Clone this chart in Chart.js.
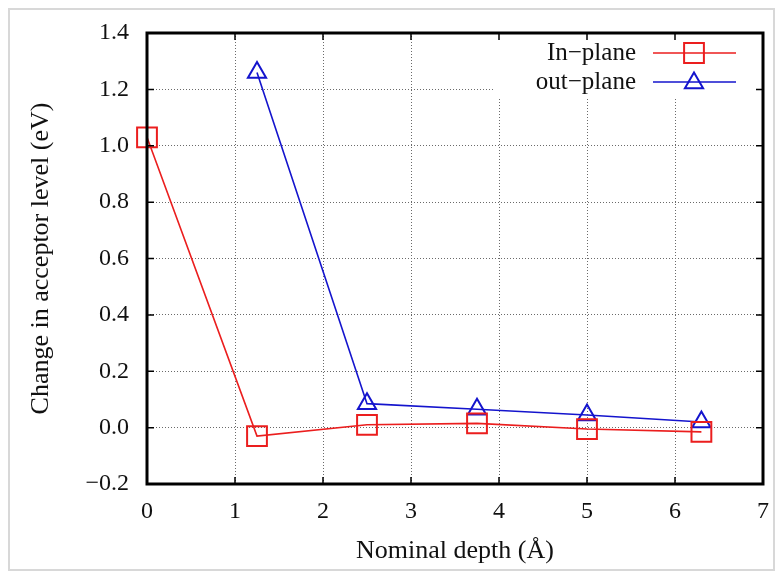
<!DOCTYPE html>
<html>
<head>
<meta charset="utf-8">
<script src="https://cdn.jsdelivr.net/npm/chart.js@4/dist/chart.umd.min.js"></script>
<style>
  html, body { margin: 0; padding: 0; background: #fff; }
  #wrap { width: 782px; height: 578px; position: relative; }
</style>
</head>
<body>
<div id="wrap"><canvas id="depthChart" width="782" height="578"></canvas></div>
<script>
// values
const depths    = [0, 1.25, 2.5, 3.75, 5.0, 6.3];
const inPlane   = [1.03, -0.03, 0.01, 0.015, -0.005, -0.015];
const outDepths = [1.25, 2.5, 3.75, 5.0, 6.3];
const outPlane  = [1.26, 0.085, 0.065, 0.045, 0.02];

const xTicks = [0, 1, 2, 3, 4, 5, 6, 7];
const yTicks = [-0.2, 0, 0.2, 0.4, 0.6, 0.8, 1.0, 1.2, 1.4];

const seriesNames = ["In\u2212plane", "out\u2212plane"];

const RED  = "rgb(235, 30, 30)";
const BLUE = "rgb(20, 20, 205)";
const FONT = "'Liberation Serif', 'Times New Roman', serif";

// gnuplot-ish frame, inward ticks, outer page border and the key
const framePlugin = {
    id: "frame",
    beforeDraw(chart) {
        const c = chart.ctx;
        c.save();
        c.strokeStyle = "#d8d8d8";
        c.lineWidth = 2;
        c.strokeRect(9, 9, 765, 561);
        c.restore();
    },
    afterDatasetsDraw(chart) {
        const c = chart.ctx;
        const a = chart.chartArea;
        const xs = chart.scales.x, ys = chart.scales.y;

        // key box (opaque, hides grid behind it)
        c.save();
        c.fillStyle = "#fff";
        c.fillRect(495, 36, 268, 62);

        const sets = chart.data.datasets;
        c.font = "25px " + FONT;
        c.textAlign = "right";
        c.textBaseline = "middle";
        sets.forEach((ds, i) => {
            const y = 53 + i * 29;
            c.fillStyle = "#111";
            c.fillText(ds.label, 636, y);
            c.strokeStyle = ds.borderColor;
            c.lineWidth = 1.6;
            c.beginPath();
            c.moveTo(653, y);
            c.lineTo(736, y);
            c.stroke();
            c.lineWidth = 2;
            c.fillStyle = "rgba(0,0,0,0)";
            Chart.helpers.drawPoint(c, {
                pointStyle: ds.pointStyle,
                radius: ds.pointRadius,
                rotation: 0,
                borderWidth: 2
            }, 694, ds.pointStyle === "triangle" ? y + 1 : y);
        });

        // inward ticks on all four sides
        c.strokeStyle = "#000";
        c.lineWidth = 1.5;
        c.beginPath();
        xTicks.forEach(v => {
            const px = xs.getPixelForValue(v);
            c.moveTo(px, a.bottom); c.lineTo(px, a.bottom - 7);
            c.moveTo(px, a.top);    c.lineTo(px, a.top + 7);
        });
        yTicks.forEach(v => {
            const py = ys.getPixelForValue(v);
            c.moveTo(a.left, py);  c.lineTo(a.left + 7, py);
            c.moveTo(a.right, py); c.lineTo(a.right - 7, py);
        });
        c.stroke();

        // heavy frame
        c.lineWidth = 3;
        c.strokeRect(a.left, a.top, a.right - a.left, a.bottom - a.top);
        c.restore();
    }
};

new Chart(document.getElementById("depthChart"), {
    type: "scatter",
    data: {
        datasets: [
            {
                label: seriesNames[0],
                data: depths.map((d, i) => ({ x: d, y: inPlane[i] })),
                showLine: true,
                clip: false,
                borderColor: RED,
                backgroundColor: "rgba(0,0,0,0)",
                borderWidth: 1.6,
                pointStyle: "rect",
                pointRadius: 14,
                pointBorderWidth: 2,
                pointHoverRadius: 14
            },
            {
                label: seriesNames[1],
                data: outDepths.map((d, i) => ({ x: d, y: outPlane[i] })),
                showLine: true,
                clip: false,
                borderColor: BLUE,
                backgroundColor: "rgba(0,0,0,0)",
                borderWidth: 1.6,
                pointStyle: "triangle",
                pointRadius: 10.5,
                pointBorderWidth: 2,
                pointHoverRadius: 10.5
            }
        ]
    },
    options: {
        responsive: false,
        animation: false,
        events: [],
        layout: { padding: { left: 22, right: 16, top: 33, bottom: 7 } },
        plugins: {
            legend: { display: false },
            tooltip: { enabled: false }
        },
        scales: {
            x: {
                type: "linear",
                min: 0,
                max: 7,
                afterBuildTicks: s => { s.ticks = xTicks.map(v => ({ value: v })); },
                afterFit: s => { s.height = 87; },
                grid: {
                    color: "#6a6a6a",
                    lineWidth: 1,
                    drawTicks: false
                },
                border: { display: false, dash: [1, 2] },
                ticks: {
                    color: "#111",
                    padding: 13,
                    maxRotation: 0,
                    font: { family: FONT, size: 24 }
                },
                title: {
                    display: true,
                    text: "Nominal depth (\u00c5)",
                    color: "#111",
                    font: { family: FONT, size: 26 },
                    padding: { top: 8 }
                }
            },
            y: {
                min: -0.2,
                max: 1.4,
                afterBuildTicks: s => { s.ticks = yTicks.map(v => ({ value: v })); },
                afterFit: s => { s.width = 125; },
                grid: {
                    color: "#6a6a6a",
                    lineWidth: 1,
                    drawTicks: false
                },
                border: { display: false, dash: [1, 2] },
                ticks: {
                    color: "#111",
                    padding: 18,
                    font: { family: FONT, size: 24 },
                    callback: v => v.toFixed(1).replace("-", "\u2212")
                },
                title: {
                    display: true,
                    text: "Change in acceptor level (eV)",
                    color: "#111",
                    font: { family: FONT, size: 26 },
                    padding: { bottom: 4 }
                }
            }
        }
    },
    plugins: [framePlugin]
});
</script>
</body>
</html>
